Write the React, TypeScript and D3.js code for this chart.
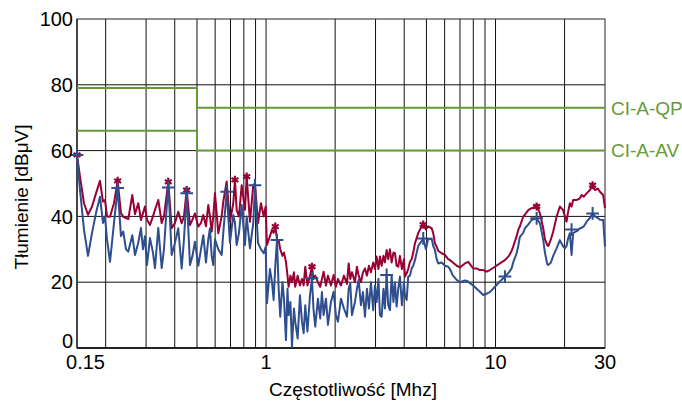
import React from "react";
import * as d3 from "d3";

// ---------- data ----------
const freq = [
  0.150, 0.1546, 0.1609, 0.1675, 0.1744, 0.1815, 0.1889, 0.1947, 0.1986, 0.2027, 0.2089, 0.2174, 0.2256, 0.2332, 0.2387, 0.2452, 0.2510, 0.2612, 0.2684, 0.2774, 0.2850, 0.2908, 0.2967, 0.3027, 0.3120, 0.3215, 0.3280, 0.3391, 0.3509, 0.3590, 0.3749,
  0.3879, 0.4009, 0.4144, 0.4288, 0.4388, 0.4509, 0.4661, 0.4779, 0.4900, 0.5065, 0.5205, 0.5326, 0.5472, 0.5600, 0.5696, 0.5794, 0.5888, 0.5990, 0.6191, 0.6406, 0.6510, 0.6735, 0.6962, 0.7197, 0.7320, 0.7446, 0.7620, 0.7830, 0.8093, 0.8232, 0.8510, 0.8796, 0.8948, 0.9222, 0.9503, 0.9764, 0.9962,
  1.009, 1.040, 1.061, 1.079, 1.097, 1.116, 1.135, 1.153, 1.179, 1.197, 1.221, 1.240, 1.254, 1.277, 1.297, 1.323, 1.340, 1.373, 1.405, 1.434, 1.458, 1.482, 1.515, 1.554, 1.585, 1.609, 1.638, 1.683, 1.722, 1.752, 1.782, 1.824, 1.861, 1.918, 1.970, 2.016, 2.057, 2.120, 2.185, 2.252, 2.291, 2.328, 2.368, 2.440, 2.489, 2.532, 2.591, 2.644,
  2.698, 2.752, 2.808, 2.864, 2.931, 2.982, 3.033, 3.089, 3.135, 3.189, 3.247, 3.296, 3.353, 3.407, 3.466, 3.526, 3.590, 3.645, 3.707, 3.767, 3.832, 3.910, 3.989, 4.029, 4.099, 4.165, 4.237, 4.310, 4.380, 4.455, 4.605, 4.684, 4.764, 4.842, 4.975, 5.076, 5.268, 5.353, 5.445, 5.539, 5.629, 5.824, 6.020, 6.222, 6.329, 6.523, 6.770, 6.998, 7.356, 7.604, 7.735,
  7.995, 8.272, 8.550, 8.838, 9.145, 9.453, 9.940, 10.45, 10.99, 11.44, 11.75, 11.94, 12.36, 12.56, 12.77, 13.20, 13.43, 13.88, 14.36, 15.11, 15.62, 16.14, 16.42, 16.80, 16.97, 17.43, 17.84, 18.46, 19.08, 19.67, 20.06, 20.40, 20.67, 21.09, 21.45, 21.80, 22.62, 23.32, 23.72, 24.27, 24.94, 25.78, 26.49, 27.11, 27.94, 28.50, 29.46, 30.0,
];

const qp = [
  58.7, 52, 44, 40.5, 43, 47, 50.8, 44.5, 45, 40, 39.9, 44, 50.8, 41, 39.9, 39.5, 39.2, 46.5, 40.7, 44, 38.9, 41, 43, 39, 37.4, 40, 42, 45, 38, 40, 50.5,
  36.4, 38, 41.4, 37.9, 40, 48, 37.4, 39, 40.9, 36.9, 38, 40.4, 37, 43.5, 40, 35.4, 40, 47, 34.9, 40, 44.5, 50.6, 38.4, 44, 51.1, 42, 40, 49.5, 42, 52.1, 38.4, 49.5, 50, 38, 44, 40, 43,
  31.3, 34, 35.9, 35, 36.9, 33, 32.8, 30, 28, 29, 26.2, 22, 18.6, 22, 20, 23, 18.6, 22, 19, 21, 19, 24.7, 19, 22, 24.7, 21, 22, 20, 18.6, 21, 23.2, 19, 22, 19, 22.2, 18.6, 21, 19, 22, 19.5, 25.7, 21, 23, 20, 24.7, 22, 20, 23,
  24.2, 22, 25, 23, 26, 24, 27.8, 24, 27.8, 25, 28, 26, 29.8, 27, 30, 26, 29, 28.8, 25, 24.7, 28, 24, 27, 21.7, 22.7, 24, 26.2, 27, 29, 31.8, 34.9, 36, 36.9, 37.5, 36, 37, 36.4, 34.9, 31.8, 30.8, 29.5, 28.8, 28.3, 27, 26.7, 26, 25, 24.5, 25.7, 26.2, 25.5,
  24.2, 24.2, 23.7, 23.7, 23.2, 23.7, 24.7, 25.7, 26.7, 28, 29.5, 30.8, 34, 35.9, 37, 39.9, 40.5, 41.9, 42.5, 43, 40.9, 36.4, 33, 31.3, 31, 33, 35.4, 39.9, 43, 42, 40, 38.4, 41, 44, 43, 45, 45, 45.5, 46.5, 46, 47, 48, 49.5, 48, 48.5, 47.5, 46.5, 42.5,
];

const av = [
  58.7, 48, 36, 28, 35, 41, 46, 38, 40, 33, 26.2, 38, 48.6, 34, 35.4, 30, 29.3, 34.3, 28.3, 32, 36.5, 30, 34, 25.2, 33.4, 29, 24.3, 36.5, 24.3, 30, 50,
  28.3, 32, 36.4, 24.2, 33, 47, 25.2, 28, 32.3, 25, 30, 34.3, 26, 33, 36.4, 28, 25.2, 33, 30, 28.3, 35, 47.5, 32, 40.4, 38, 31.3, 35, 43.5, 31.3, 40, 30.3, 38, 49, 32, 30, 28.8, 30.8,
  13.6, 24, 20, 14.6, 25, 32.8, 18, 9.5, 20, 15, 2.4, 18, 10, 14, 0.4, 12, 8, 2.9, 16, 8, 4.5, 13, 5, 16, 21.2, 12, 6.5, 15, 9, 17, 10, 15, 7, 14, 17.1, 10, 8, 15, 12, 9.5, 18, 19.7, 10, 14, 18, 20.7, 13, 17,
  9.5, 18, 12, 20, 11.5, 19, 14, 21, 10, 9.5, 18, 12, 22.2, 13, 11.5, 22, 14, 20, 12.6, 18, 21.7, 13, 20, 16, 14.6, 21.7, 22, 24.2, 25, 26.7, 31, 31.8, 32.5, 33.3, 30, 33, 33.3, 31, 29.8, 27, 25.7, 26, 25, 24.7, 24, 22, 20.7, 20, 20.5, 20.2, 19.7,
  19, 18, 17.1, 16.1, 16.5, 17, 18.6, 20.2, 21.7, 23, 24.2, 26, 28.8, 31, 33.8, 35, 36.4, 37.5, 38.9, 39.4, 37.9, 32.8, 29, 25.5, 25.2, 26, 28, 30.3, 32.8, 31, 30.3, 31, 33, 34.9, 28.3, 35, 35.5, 36.4, 36.5, 37, 38.4, 39.5, 40.9, 40, 39.5, 39, 38.9, 30.8,
];

const starFreq = [0.15, 0.2256, 0.3749, 0.4509, 0.732, 0.8232, 1.097, 1.585, 4.842, 15.11, 26.49];
const starVal = [58.7, 50.8, 50.5, 48, 51.1, 52.1, 36.9, 24.7, 37.5, 43, 49.5];
const plusFreq = [0.15, 0.2256, 0.3749, 0.4509, 0.6735, 0.8948, 1.116, 1.585, 3.353, 4.842, 10.99, 15.11, 21.45, 26.49];
const plusVal = [58.7, 48.6, 48.8, 47, 47.5, 49.5, 32.8, 21.2, 22.2, 33.3, 21.7, 39.4, 36, 40.9];

// limit lines (step at 0.5 MHz)
const limitFreq = [0.15, 0.5, 0.5, 30];
const limitQP = [79, 79, 73, 73];
const limitAV = [66, 66, 60, 60];
const limitNames = ["CI-A-QP", "CI-A-AV"];

const yTicks = [0, 20, 40, 60, 80, 100];
const xTickVals = [0.15, 1, 10, 30];
const xTickLabels = ["0.15", "1", "10", "30"];
const xGrid = [0.2, 0.3, 0.4, 0.5, 0.6, 0.7, 0.8, 0.9, 1, 2, 3, 4, 5, 6, 7, 8, 9, 10, 20];

const yTitle = "Tłumienie [dBμV]";
const xTitle = "Częstotliwość [Mhz]";

// ---------- chart ----------
const W = 682, H = 403;
const L = 77, R = 605, T = 19, B = 348;
const RED = "#990033", BLUE = "#2f4e8e", GREEN = "#669a38";
const FONT = "'Liberation Sans', Arial, sans-serif";

export default function App() {
  const x = d3.scaleLog().domain([0.15, 30]).range([L, R]);
  const y = d3.scaleLinear().domain([0, 100]).range([B, T]);
  const line = d3.line<[number, number]>().x((d) => x(d[0])).y((d) => y(d[1]));
  const qpPts = freq.map((f, i) => [f, qp[i]] as [number, number]);
  const avPts = freq.map((f, i) => [f, av[i]] as [number, number]);
  const star = d3.symbol().type(d3.symbolAsterisk).size(45)();
  const plus = d3.symbol().type(d3.symbolPlus).size(55)();
  const limits = [limitQP, limitAV];

  return (
    <svg width={W} height={H} style={{ position: "absolute", left: 0, top: 0, background: "#fff" }} fontFamily={FONT}>
      {/* grid */}
      {yTicks.filter((t) => t > 0 && t < 100).map((t) => (
        <line key={"h" + t} x1={L} x2={R} y1={y(t)} y2={y(t)} stroke="#111" strokeWidth={1} />
      ))}
      {xGrid.map((g) => (
        <line key={"v" + g} x1={x(g)} x2={x(g)} y1={T} y2={B} stroke="#111" strokeWidth={1} />
      ))}
      <rect x={L} y={T} width={R - L} height={B - T} fill="none" stroke="#222" strokeWidth={1} />
      <line x1={L} x2={R} y1={B} y2={B} stroke="#000" strokeWidth={1.6} />
      <line x1={L} x2={L} y1={T} y2={B} stroke="#333" strokeWidth={1.6} />

      {/* limits */}
      {limits.map((lv, k) => (
        <path key={"lim" + k} d={line(limitFreq.map((f, i) => [f, lv[i]] as [number, number])) || ""} fill="none" stroke={GREEN} strokeWidth={2} />
      ))}
      {limits.map((lv, k) => (
        <text key={"ln" + k} x={R + 6} y={y(lv[lv.length - 1])} dy="0.36em" fontSize={19} fill={GREEN}>
          {limitNames[k]}
        </text>
      ))}

      {/* data */}
      <path d={line(qpPts) || ""} fill="none" stroke={RED} strokeWidth={2} strokeLinejoin="round" />
      <path d={line(avPts) || ""} fill="none" stroke={BLUE} strokeWidth={2} strokeLinejoin="round" />
      {starFreq.map((f, i) => (
        <path key={"s" + i} d={star || ""} transform={`translate(${x(f)},${y(starVal[i])})`} fill="none" stroke={RED} strokeWidth={2.2} />
      ))}
      {plusFreq.map((f, i) => (
        <path key={"p" + i} d={plus || ""} transform={`translate(${x(f)},${y(plusVal[i])})`} fill="none" stroke={BLUE} strokeWidth={2} />
      ))}

      {/* axes labels */}
      {yTicks.map((t) => (
        <text key={"yt" + t} x={L - 4} y={t === 0 ? y(t) - 7 : y(t)} dy="0.36em" textAnchor="end" fontSize={20} fill="#000">
          {t}
        </text>
      ))}
      {xTickVals.map((v, i) => (
        <text key={"xt" + v} x={x(v)} dx={i === 0 ? 8.5 : 0} y={369} textAnchor="middle" fontSize={20} fill="#000">
          {xTickLabels[i]}
        </text>
      ))}
      <text x={353} y={396} textAnchor="middle" fontSize={19} fill="#000">{xTitle}</text>
      <text transform={`translate(27.5,197) rotate(-90)`} textAnchor="middle" fontSize={19} fill="#000">{yTitle}</text>
    </svg>
  );
}
